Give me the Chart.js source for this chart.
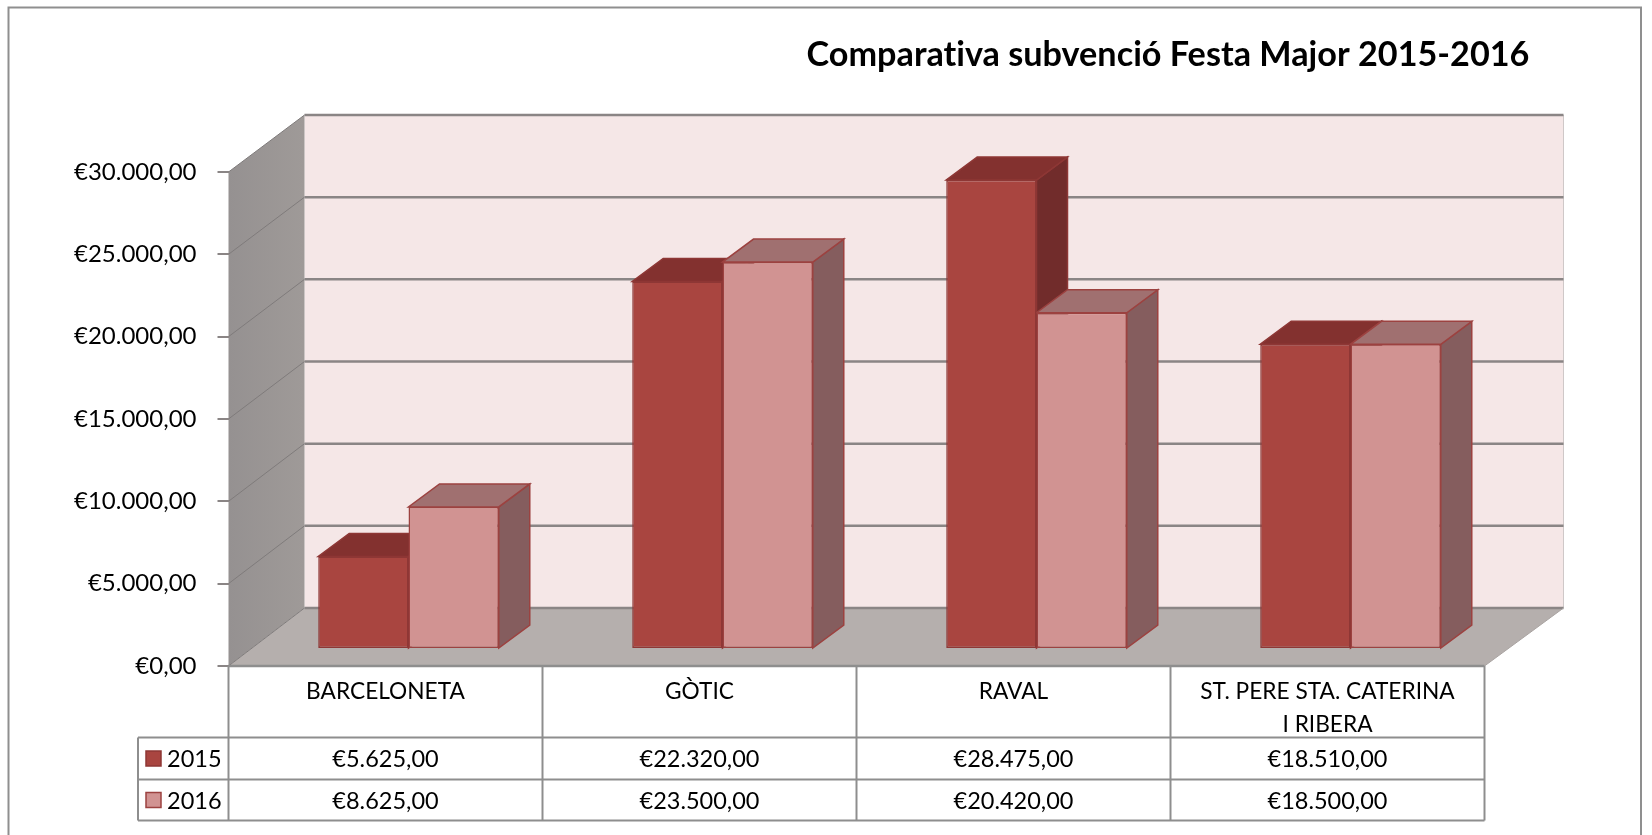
<!DOCTYPE html>
<html>
<head>
<meta charset="utf-8">
<title>Comparativa subvenció Festa Major 2015-2016</title>
<script src="https://cdn.jsdelivr.net/npm/chart.js@4"></script>
<style>
  html, body { margin: 0; padding: 0; background: #fff; overflow: hidden; }
  canvas { display: block; }
</style>
</head>
<body>
<canvas id="chart" width="1652" height="835"></canvas>
<script>
const chartTitle = 'Comparativa subvenció Festa Major 2015-2016';
const categories = ['BARCELONETA', 'GÒTIC', 'RAVAL', ['ST. PERE STA. CATERINA', 'I RIBERA']];
const seriesNames = ['2015', '2016'];
const values2015 = [5625, 22320, 28475, 18510];
const values2016 = [8625, 23500, 20420, 18500];

const FONT = 'Lato, Carlito, Calibri, sans-serif';
const GRID = '#8a8585';
const TABLE_LINE = '#8e8e8e';

// profondeur du "3D" : fond du graphique et position des barres
const WALL_DX = 76, WALL_DY_BOTTOM = -58, WALL_DY_TOP = -57, WALL_EXTRA_RIGHT = 3;
const BAR_DX = 23, BAR_DY = -17;
const DEPTH_DX = 31, DEPTH_DY = -23;

const faceColors = [
  { top: '#83312F', side: '#712C2B', edge: '#8E3735' },
  { top: '#A07070', side: '#855D5E', edge: '#9C4240' }
];

function money(v) {
  return '€' + v.toLocaleString('de-DE', { minimumFractionDigits: 2, maximumFractionDigits: 2 });
}

function poly(ctx, pts, fill, stroke, width) {
  ctx.beginPath();
  pts.forEach((p, i) => i ? ctx.lineTo(p[0], p[1]) : ctx.moveTo(p[0], p[1]));
  ctx.closePath();
  if (fill) { ctx.fillStyle = fill; ctx.fill(); }
  if (stroke) { ctx.strokeStyle = stroke; ctx.lineWidth = width || 1; ctx.stroke(); }
}

function line(ctx, x1, y1, x2, y2, color, width) {
  ctx.beginPath();
  ctx.moveTo(x1, y1);
  ctx.lineTo(x2, y2);
  ctx.strokeStyle = color;
  ctx.lineWidth = width;
  ctx.stroke();
}

const scene3d = {
  id: 'scene3d',
  beforeDraw(chart) {
    const { ctx, chartArea: a, scales: { y } } = chart;
    ctx.save();

    // cadre extérieur (ouvert en bas, comme la capture)
    ctx.beginPath();
    ctx.moveTo(8.5, 835);
    ctx.lineTo(8.5, 7.5);
    ctx.lineTo(1641, 7.5);
    ctx.lineTo(1641, 835);
    ctx.strokeStyle = '#8f8f8f';
    ctx.lineWidth = 2;
    ctx.stroke();

    // fond, sol et paroi gauche
    const y0 = y.getPixelForValue(0), yMax = y.getPixelForValue(30000);
    const backL = a.left + WALL_DX, backR = a.right + WALL_DX + WALL_EXTRA_RIGHT;
    const backBottom = y0 + WALL_DY_BOTTOM, backTop = yMax + WALL_DY_TOP;
    poly(ctx, [[backL, backTop], [backR, backTop], [backR, backBottom], [backL, backBottom]], '#F5E7E7');
    line(ctx, backR, backTop, backR, backBottom, '#cfc8c8', 1);

    const sideGrad = ctx.createLinearGradient(a.left, 0, backL, 0);
    sideGrad.addColorStop(0, '#959191');
    sideGrad.addColorStop(1, '#9F9A98');
    poly(ctx, [[a.left, y0], [a.left, yMax], [backL, backTop], [backL, backBottom]], sideGrad);
    poly(ctx, [[a.left, y0], [a.right, y0], [backR, backBottom], [backL, backBottom]], '#B5AFAD');

    y.ticks.forEach(t => {
      const py = y.getPixelForValue(t.value);
      const by = backBottom + (backTop - backBottom) * (t.value / 30000);
      line(ctx, a.left, py, backL, by, '#7f7b7b', 1);
      line(ctx, backL, by, backR, by, GRID, 2.5);
    });
    line(ctx, a.right, y0, backR, backBottom, '#a9a3a1', 1);
    ctx.restore();
  },
  beforeDatasetsDraw(chart) {
    const { ctx } = chart;
    // les barres sont décalées vers le fond, jusqu'à afterDatasetsDraw
    ctx.save();
    ctx.translate(BAR_DX, BAR_DY);
    chart.data.datasets.forEach((ds, d) => {
      const c = faceColors[d];
      chart.getDatasetMeta(d).data.forEach(bar => {
        const l = bar.x - bar.width / 2, r = bar.x + bar.width / 2;
        poly(ctx, [[r, bar.base], [r, bar.y], [r + DEPTH_DX, bar.y + DEPTH_DY], [r + DEPTH_DX, bar.base + DEPTH_DY]], c.side, c.edge, 1.5);
        poly(ctx, [[l, bar.y], [r, bar.y], [r + DEPTH_DX, bar.y + DEPTH_DY], [l + DEPTH_DX, bar.y + DEPTH_DY]], c.top, c.edge, 1.5);
      });
    });
  },
  afterDatasetsDraw(chart) {
    chart.ctx.restore();
  },
  afterDraw(chart) {
    const { ctx, chartArea: a, scales: { x, y } } = chart;
    ctx.save();

    // titre
    ctx.fillStyle = '#000';
    ctx.font = 'bold 34.2px ' + FONT;
    ctx.textAlign = 'center';
    ctx.textBaseline = 'middle';
    ctx.letterSpacing = '0.01px'; // pas de ligature "ti"
    ctx.fillText(chartTitle, 1168, 55);
    ctx.letterSpacing = '0px';

    // tableau de données sous l'axe
    const rowLines = [y.getPixelForValue(0), 737.5, 779.5, 820.5];
    const cellW = (a.right - a.left) / categories.length;
    const legendLeft = 138;

    line(ctx, a.left, rowLines[0], a.right, rowLines[0], TABLE_LINE, 2.5);
    line(ctx, legendLeft, rowLines[1], a.right, rowLines[1], TABLE_LINE, 2);
    line(ctx, legendLeft, rowLines[2], a.right, rowLines[2], TABLE_LINE, 2);
    line(ctx, legendLeft, rowLines[3], a.right, rowLines[3], TABLE_LINE, 2);
    line(ctx, legendLeft, rowLines[1], legendLeft, rowLines[3], TABLE_LINE, 2);
    for (let i = 0; i <= categories.length; i++) {
      line(ctx, a.left + i * cellW, rowLines[0], a.left + i * cellW, rowLines[3], TABLE_LINE, 2);
    }

    ctx.font = '23.5px ' + FONT;
    const rows = [values2015, values2016];
    rows.forEach((vals, r) => {
      const cy = (rowLines[r + 1] + rowLines[r + 2]) / 2;
      const ds = chart.data.datasets[r];
      ctx.fillStyle = ds.backgroundColor;
      ctx.strokeStyle = ds.borderColor;
      ctx.lineWidth = 1.5;
      ctx.fillRect(146, cy - 7.5, 15, 15);
      ctx.strokeRect(146, cy - 7.5, 15, 15);

      ctx.fillStyle = '#000';
      ctx.textAlign = 'left';
      ctx.fillText(seriesNames[r], 167, cy + 1);
      ctx.textAlign = 'center';
      vals.forEach((v, i) => ctx.fillText(money(v), x.getPixelForTick(i), cy + 1));
    });
    ctx.restore();
  }
};

new Chart(document.getElementById('chart'), {
  type: 'bar',
  data: {
    labels: categories,
    datasets: [
      { label: seriesNames[0], data: values2015, backgroundColor: '#A94540', borderColor: '#8E3735' },
      { label: seriesNames[1], data: values2016, backgroundColor: '#D19392', borderColor: '#9C4240' }
    ]
  },
  plugins: [scene3d],
  options: {
    responsive: false,
    animation: false,
    devicePixelRatio: 1,
    layout: { padding: { left: 0, top: 172, right: 167.5, bottom: 0 } },
    datasets: {
      bar: { barPercentage: 1, categoryPercentage: 0.575, borderWidth: 1.5, borderSkipped: false }
    },
    plugins: { legend: { display: false }, title: { display: false }, tooltip: { enabled: false } },
    scales: {
      x: {
        afterFit(scale) { scale.height = 169; },
        grid: { display: false },
        border: { display: false },
        ticks: { color: '#000', maxRotation: 0, autoSkip: false, padding: 1, font: { family: FONT, size: 22.7, lineHeight: '33px' } }
      },
      y: {
        min: 0,
        max: 30000,
        afterFit(scale) { scale.width = 228.5; },
        border: { display: false },
        grid: { drawOnChartArea: false, tickLength: 11, color: GRID, lineWidth: 2 },
        ticks: {
          stepSize: 5000,
          color: '#000',
          padding: 21,
          font: { family: FONT, size: 24 },
          callback: v => money(v)
        }
      }
    }
  }
});
</script>
</body>
</html>
